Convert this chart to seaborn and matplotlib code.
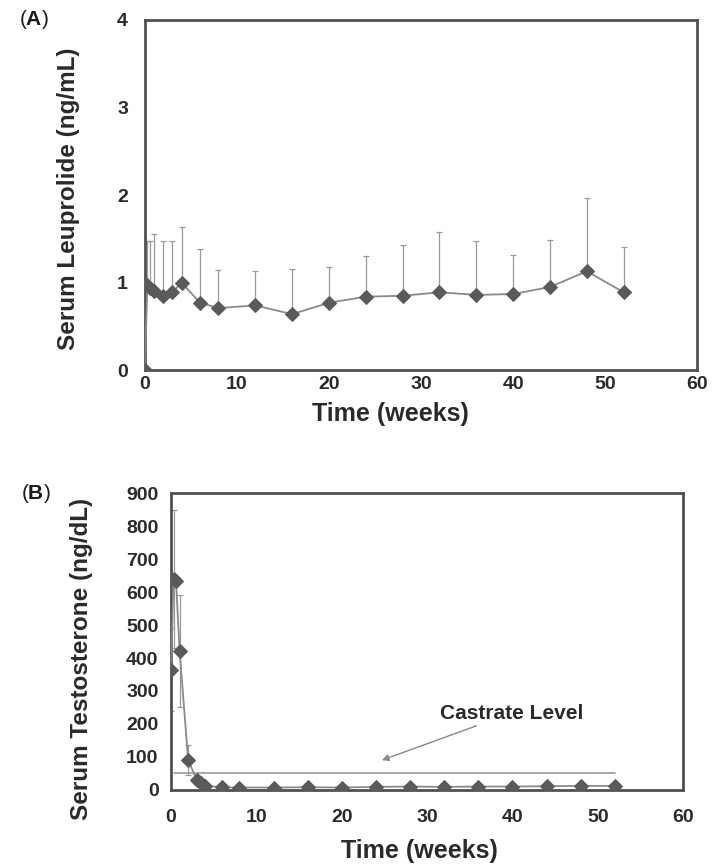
import numpy as np
import pandas as pd
import matplotlib
matplotlib.use('Agg')
import matplotlib.pyplot as plt
import seaborn as sns

# Panel A - serum leuprolide (mean, upper SD)
weeks_a = [0, 0.29, 0.57, 1, 2, 3, 4, 6, 8, 12, 16, 20, 24, 28, 32, 36, 40, 44, 48, 52]
leup_mean = [0, 0.97, 0.94, 0.91, 0.85, 0.89, 1.00, 0.77, 0.71, 0.74, 0.64, 0.77,
             0.84, 0.85, 0.89, 0.86, 0.87, 0.95, 1.13, 0.89]
leup_upper = [0, 1.47, 1.47, 1.56, 1.48, 1.48, 1.64, 1.38, 1.15, 1.13, 1.16, 1.18,
              1.30, 1.43, 1.58, 1.48, 1.31, 1.49, 1.97, 1.41]

# Panel B - serum testosterone (mean, SD)
weeks_b = [0, 0.29, 0.57, 1, 2, 3, 3.5, 4, 6, 8, 12, 16, 20, 24, 28, 32, 36, 40, 44, 48, 52]
testo_mean = [365, 640, 635, 420, 90, 30, 20, 12, 8, 7, 7, 8, 7, 9, 10, 9, 10, 10, 11, 12, 12]
testo_sd = [125, 210, 0, 170, 45, 15, 8, 5, 0, 0, 0, 0, 0, 0, 0, 0, 0, 0, 0, 0, 0]
castrate_level = 50

sns.set_theme(style='white')
plt.rcParams['font.family'] = ['Liberation Sans', 'DejaVu Sans']
plt.rcParams['mathtext.fontset'] = 'custom'
plt.rcParams['mathtext.bf'] = 'Liberation Sans:bold'

fig = plt.figure(figsize=(7.13, 8.67), dpi=100)
ax1 = fig.add_axes([0.203, 0.573, 0.775, 0.404])
ax2 = fig.add_axes([0.240, 0.089, 0.718, 0.342])

line_col = '#8a8a8a'
mark_col = '#5a5a5a'
err_col = '#9a9a9a'
spine_col = '#505050'
text_col = '#2a2a2a'

df_a = pd.DataFrame({'week': weeks_a, 'value': leup_mean})
df_b = pd.DataFrame({'week': weeks_b, 'value': testo_mean})

# A
mean_a = np.array(leup_mean)
up_a = np.array(leup_upper) - mean_a
ax1.errorbar(weeks_a, leup_mean, yerr=[np.zeros_like(up_a), up_a], fmt='none',
             ecolor=err_col, elinewidth=0.9, capsize=2.5, capthick=0.9, zorder=1)
sns.lineplot(data=df_a, x='week', y='value', ax=ax1, color=line_col, linewidth=1.3,
             marker='D', markersize=7, markerfacecolor=mark_col, markeredgecolor=mark_col,
             zorder=3)
ax1.set_xlim(0, 60)
ax1.set_ylim(0, 4)
ax1.set_xticks(range(0, 61, 10))
ax1.set_yticks(range(0, 5))
ax1.set_xlabel('Time (weeks)', fontsize=18, fontweight='bold', color=text_col)
ax1.set_ylabel('Serum Leuprolide (ng/mL)', fontsize=17.5, fontweight='bold', color=text_col)
ax1.xaxis.set_label_coords(0.444, -0.092)
ax1.yaxis.set_label_coords(-0.118, 0.49)

# B
ax2.errorbar(weeks_b, testo_mean, yerr=testo_sd, fmt='none',
             ecolor=err_col, elinewidth=0.9, capsize=2.5, capthick=0.9, zorder=1)
sns.lineplot(data=df_b, x='week', y='value', ax=ax2, color=line_col, linewidth=1.3,
             marker='D', markersize=7, markerfacecolor=mark_col, markeredgecolor=mark_col,
             zorder=3)
ax2.plot([0.3, 52], [castrate_level, castrate_level], color='#9a9a9a', linewidth=1.2, zorder=2)
ax2.annotate('Castrate Level', xy=(24.7, 90), xytext=(31.5, 233),
             fontsize=15, fontweight='bold', color=text_col, va='center',
             arrowprops=dict(arrowstyle='-|>', color='#8a8a8a', lw=1.0,
                             shrinkA=0, shrinkB=0, mutation_scale=10))
ax2.set_xlim(0, 60)
ax2.set_ylim(0, 900)
ax2.set_xticks(range(0, 61, 10))
ax2.set_yticks(range(0, 901, 100))
ax2.set_xlabel('Time (weeks)', fontsize=18, fontweight='bold', color=text_col)
ax2.set_ylabel('Serum Testosterone (ng/dL)', fontsize=17.5, fontweight='bold', color=text_col)
ax2.xaxis.set_label_coords(0.486, -0.165)
ax2.yaxis.set_label_coords(-0.152, 0.44)

for ax, xpad, ypad in ((ax1, 4, 12), (ax2, 14, 9)):
    for s in ax.spines.values():
        s.set_color(spine_col)
        s.set_linewidth(2.0)
    ax.tick_params(axis='x', length=0, pad=xpad, labelsize=14, labelcolor=text_col)
    ax.tick_params(axis='y', length=0, pad=ypad, labelsize=14, labelcolor=text_col)
    for lab in ax.get_xticklabels() + ax.get_yticklabels():
        lab.set_fontweight('bold')
    ax.grid(False)

fig.text(0.026, 0.977, r'($\mathbf{A}$)', fontsize=15, va='center', color='#1a1a1a')
fig.text(0.029, 0.431, r'($\mathbf{B}$)', fontsize=15, va='center', color='#1a1a1a')

fig.savefig('out.png', dpi=100)
